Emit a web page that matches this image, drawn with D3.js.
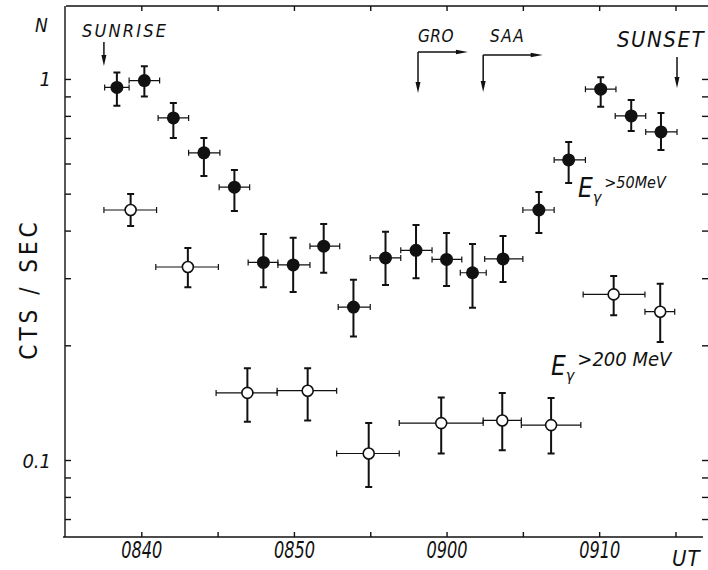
<!DOCTYPE html>
<html>
<head>
<script src="https://d3js.org/d3.v7.min.js"></script>
<style>
  body { margin: 0; background: #fff; }
  text { font-family: "DejaVu Sans Condensed", "DejaVu Sans", sans-serif; font-style: italic; fill: #111; }
</style>
</head>
<body>
<svg width="708" height="570"></svg>
<script>
// time in minutes after 08:00 UT
// E > 50 MeV (filled)
var hiT  = [38.4, 40.2, 42.1, 44.1, 46.1, 48.0, 49.95, 51.95, 53.9, 56.0, 58.0, 60.0, 61.7, 63.7, 66.05, 68.0, 70.1, 72.1, 74.05];
var hiT0 = [37.6, 39.2, 41.1, 43.1, 45.1, 47.0, 48.95, 51.05, 52.9, 55.0, 57.0, 59.05, 60.9, 62.5, 65.0, 67.05, 69.1, 71.05, 73.05];
var hiT1 = [39.2, 41.2, 43.1, 45.15, 47.1, 48.95, 51.05, 53.0, 55.0, 57.0, 59.05, 61.0, 62.6, 65.0, 67.05, 69.1, 71.1, 73.05, 75.1];
var hiV  = [0.95, 0.99, 0.79, 0.64, 0.52, 0.33, 0.325, 0.364, 0.252, 0.339, 0.355, 0.336, 0.31, 0.337, 0.453, 0.613, 0.94, 0.80, 0.726];
var hiV0 = [0.85, 0.90, 0.70, 0.556, 0.45, 0.284, 0.276, 0.31, 0.211, 0.288, 0.30, 0.286, 0.251, 0.293, 0.394, 0.533, 0.845, 0.73, 0.651];
var hiV1 = [1.04, 1.08, 0.865, 0.70, 0.577, 0.392, 0.383, 0.416, 0.297, 0.397, 0.414, 0.394, 0.369, 0.387, 0.505, 0.683, 1.01, 0.88, 0.814];

// E > 200 MeV (open)
var loT  = [39.3, 43.05, 46.95, 50.9, 54.9, 59.65, 63.65, 66.85, 70.95, 74.0];
var loT0 = [37.55, 40.95, 44.9, 48.9, 52.8, 56.9, 62.4, 64.9, 68.95, 73.0];
var loT1 = [41.0, 45.05, 48.9, 52.8, 56.9, 62.4, 64.9, 68.8, 73.0, 74.95];
var loV  = [0.453, 0.321, 0.15, 0.152, 0.104, 0.125, 0.127, 0.1235, 0.272, 0.245];
var loV0 = [0.411, 0.284, 0.126, 0.127, 0.085, 0.104, 0.106, 0.104, 0.24, 0.204];
var loV1 = [0.499, 0.36, 0.174, 0.174, 0.125, 0.146, 0.15, 0.1455, 0.304, 0.29];

var xTicks = [40, 45, 50, 55, 60, 65, 70, 75];
var yTicks = [0.07, 0.08, 0.09, 0.1, 0.2, 0.3, 0.4, 0.5, 0.6, 0.7, 0.8, 0.9, 1];

// event markers (minutes)
var sunriseT = 37.55, sunsetT = 75.1;
var groT = [58.13, 61.4], saaT = [62.4, 66.3];

var svg = d3.select("svg");
var x = d3.scaleLinear().domain([35, 77]).range([65, 706]);
var y = d3.scaleLog().domain([0.0628, 1.554]).range([537, 6]);

function timeLabel(m) {
  if (m % 10 !== 0 || m > 70) return "";
  return m < 60 ? "08" + m : "09" + d3.format("02d")(m - 60);
}

// frame / axes
var gb = svg.append("g").attr("transform", "translate(0,537)")
  .call(d3.axisBottom(x).tickValues(xTicks).tickSize(-5).tickSizeOuter(0).tickPadding(5).tickFormat(timeLabel));
gb.select(".domain").attr("d", "M63,0H703");
gb.selectAll("text").style("font-size", "23px").attr("transform", "scale(0.78,1)");

var gt = svg.append("g").attr("transform", "translate(0,6)")
  .call(d3.axisTop(x).tickValues(xTicks).tickSize(-5).tickSizeOuter(0).tickFormat(""));
gt.select(".domain").attr("d", "M66,0H708");

var gl = svg.append("g").attr("transform", "translate(65,0)")
  .call(d3.axisLeft(y).tickValues(yTicks).tickSize(-6).tickSizeOuter(0).tickPadding(14)
    .tickFormat(function(d) { return d === 1 ? "1" : d === 0.1 ? "0.1" : ""; }));
gl.select(".domain").attr("d", "M0,6V537");
gl.selectAll("text").style("font-size", "20px").attr("dy", "0.35em");

var gr = svg.append("g").attr("transform", "translate(708,0)")
  .call(d3.axisRight(y).tickValues(yTicks).tickSize(-6).tickFormat(""));
gr.select(".domain").remove();

svg.selectAll(".domain, .tick line").attr("stroke", "#111").attr("stroke-width", 1.4);

// error bars + markers
function drawSeries(T, T0, T1, V, V0, V1, filled) {
  var idx = d3.range(T.length);
  var g = svg.append("g").attr("stroke", "#111");
  g.selectAll(".hbar").data(idx).enter().append("path")
    .attr("fill", "none").attr("stroke-width", 1.2)
    .attr("d", function(i) {
      var a = x(T0[i]), b = x(T1[i]), c = y(V[i]);
      return "M" + a + "," + c + "H" + b + "M" + a + "," + (c - 3) + "V" + (c + 3) + "M" + b + "," + (c - 3) + "V" + (c + 3);
    });
  g.selectAll(".vbar").data(idx).enter().append("path")
    .attr("fill", "none").attr("stroke-width", 2)
    .attr("d", function(i) {
      var cx = x(T[i]), a = y(V1[i]), b = y(V0[i]);
      return "M" + cx + "," + a + "V" + b + "M" + (cx - 3.5) + "," + a + "H" + (cx + 3.5) + "M" + (cx - 3.5) + "," + b + "H" + (cx + 3.5);
    });
  g.selectAll("circle").data(idx).enter().append("circle")
    .attr("cx", function(i) { return x(T[i]); })
    .attr("cy", function(i) { return y(V[i]); })
    .attr("r", filled ? 6.5 : 5.5)
    .attr("fill", filled ? "#111" : "#fff")
    .attr("stroke-width", filled ? 0 : 1.6);
}
drawSeries(hiT, hiT0, hiT1, hiV, hiV0, hiV1, true);
drawSeries(loT, loT0, loT1, loV, loV0, loV1, false);

// arrows
function arrowDown(px, y0, y1) {
  svg.append("path").attr("stroke", "#111").attr("stroke-width", 1.5).attr("fill", "none")
    .attr("d", "M" + px + "," + y0 + "V" + (y1 - 8));
  svg.append("path").attr("fill", "#111")
    .attr("d", "M" + (px - 2.5) + "," + (y1 - 11) + "L" + (px + 2.5) + "," + (y1 - 11) + "L" + px + "," + y1 + "Z");
}
function arrowRight(px0, px1, yy) {
  svg.append("path").attr("stroke", "#111").attr("stroke-width", 1.5).attr("fill", "none")
    .attr("d", "M" + px0 + "," + yy + "H" + (px1 - 8));
  svg.append("path").attr("fill", "#111")
    .attr("d", "M" + (px1 - 12) + "," + (yy - 2.2) + "L" + (px1 - 12) + "," + (yy + 2.2) + "L" + px1 + "," + yy + "Z");
}
arrowDown(x(sunriseT), 42, 66);
arrowDown(x(sunsetT), 57, 88);
arrowRight(x(groT[0]), x(groT[1]), 52);
arrowDown(x(groT[0]), 52, 93);
arrowRight(x(saaT[0]), x(saaT[1]), 55);
arrowDown(x(saaT[0]), 55, 92);

// labels
function label(txt, px, py, size, extra) {
  var t = svg.append("text").attr("x", px).attr("y", py).style("font-size", size + "px").text(txt);
  if (extra) extra(t);
  return t;
}
label("N", 35, 32, 19);
label("SUNRISE", 82, 37, 18, function(t) { t.style("letter-spacing", "2.2px"); });
label("GRO", 418, 42, 17, function(t) { t.style("letter-spacing", "0.5px"); });
label("SAA", 490, 42, 17, function(t) { t.style("letter-spacing", "1.5px"); });
label("SUNSET", 617, 47, 22, function(t) { t.style("letter-spacing", "1.5px"); });
label("UT", 672, 566, 22, function(t) { t.style("letter-spacing", "1px"); });

svg.append("text")
  .attr("transform", "translate(37,289) rotate(-90)")
  .attr("text-anchor", "middle")
  .style("font-size", "24px").style("font-style", "normal")
  .style("letter-spacing", "4px").style("font-weight", "300")
  .text("CTS / SEC");

function energyLabel(px, py, thresh, small) {
  var t = svg.append("text").attr("x", px).attr("y", py);
  t.append("tspan").style("font-size", "26px").text("E");
  t.append("tspan").attr("dy", 6).style("font-size", "16px").text("γ");
  t.append("tspan").attr("dy", -15).attr("dx", 3).style("font-size", small + "px").text(thresh);
}
energyLabel(578, 197, ">50MeV", 16);
energyLabel(551, 375, ">200 MeV", 20);
</script>
</body>
</html>
